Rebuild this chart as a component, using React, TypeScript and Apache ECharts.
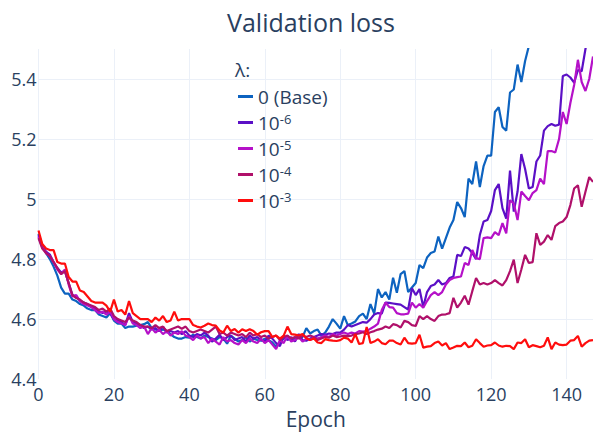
import React, { useEffect, useRef } from "react";
import * as echarts from "echarts";

const blue = [4.885,4.845,4.82,4.8,4.775,4.745,4.705,4.685,4.685,4.665,4.66,4.65,4.645,4.635,4.63,4.63,4.615,4.61,4.605,4.62,4.595,4.585,4.585,4.57,4.575,4.575,4.578,4.58,4.583,4.59,4.57,4.565,4.56,4.565,4.56,4.55,4.54,4.535,4.535,4.54,4.538,4.548,4.54,4.535,4.545,4.54,4.535,4.53,4.54,4.535,4.518,4.545,4.535,4.525,4.53,4.54,4.525,4.535,4.53,4.528,4.535,4.53,4.522,4.508,4.525,4.535,4.54,4.53,4.535,4.542,4.54,4.57,4.552,4.56,4.565,4.545,4.555,4.575,4.6,4.585,4.568,4.61,4.58,4.585,4.592,4.61,4.618,4.6,4.65,4.618,4.7,4.672,4.69,4.665,4.738,4.688,4.75,4.76,4.69,4.705,4.72,4.78,4.77,4.805,4.82,4.825,4.875,4.835,4.87,4.905,4.93,4.99,4.97,4.94,5.068,5.05,5.125,5.04,5.11,5.145,5.145,5.29,5.306,5.24,5.228,5.355,5.365,5.448,5.39,5.46,5.51,5.56];

const purple = [4.88,4.84,4.825,4.815,4.79,4.77,4.755,4.76,4.72,4.68,4.675,4.66,4.655,4.65,4.64,4.635,4.625,4.62,4.625,4.62,4.6,4.595,4.59,4.58,4.62,4.59,4.585,4.58,4.57,4.575,4.565,4.57,4.56,4.575,4.555,4.56,4.555,4.56,4.55,4.56,4.545,4.54,4.55,4.545,4.555,4.545,4.525,4.535,4.548,4.53,4.54,4.545,4.53,4.535,4.54,4.525,4.545,4.535,4.54,4.53,4.525,4.545,4.535,4.52,4.51,4.545,4.53,4.54,4.525,4.55,4.53,4.528,4.535,4.54,4.545,4.55,4.548,4.552,4.55,4.555,4.555,4.565,4.58,4.575,4.58,4.585,4.59,4.588,4.6,4.615,4.62,4.618,4.655,4.654,4.652,4.65,4.648,4.64,4.632,4.703,4.68,4.7,4.64,4.69,4.71,4.715,4.73,4.715,4.72,4.737,4.742,4.814,4.81,4.84,4.835,4.82,4.8,4.88,4.925,4.93,4.96,5.03,5.05,4.97,4.935,5.095,4.958,5.025,5.15,5.1,5.035,5.04,5.125,5.145,5.228,5.243,5.25,5.244,5.248,5.41,5.415,5.405,5.388,5.43,5.426,5.5,5.56];

const magenta = [4.875,4.84,4.82,4.81,4.79,4.765,4.75,4.765,4.715,4.675,4.68,4.66,4.65,4.645,4.64,4.63,4.62,4.625,4.615,4.625,4.6,4.59,4.585,4.58,4.61,4.585,4.58,4.57,4.575,4.55,4.57,4.555,4.565,4.55,4.56,4.545,4.555,4.55,4.56,4.545,4.54,4.53,4.545,4.535,4.54,4.52,4.535,4.525,4.515,4.54,4.525,4.53,4.52,4.515,4.53,4.52,4.535,4.525,4.52,4.535,4.52,4.53,4.515,4.5,4.53,4.52,4.545,4.525,4.53,4.54,4.525,4.535,4.53,4.54,4.535,4.54,4.545,4.54,4.55,4.545,4.55,4.555,4.55,4.555,4.552,4.56,4.558,4.56,4.568,4.575,4.585,4.63,4.655,4.64,4.638,4.62,4.616,4.616,4.618,4.655,4.638,4.65,4.638,4.66,4.68,4.69,4.68,4.69,4.715,4.73,4.737,4.74,4.742,4.787,4.78,4.83,4.803,4.8,4.87,4.872,4.87,4.89,4.88,4.92,4.886,4.996,4.985,4.93,5.025,5.01,4.996,5.02,5.03,5.068,5.05,5.16,5.16,5.155,5.2,5.29,5.25,5.32,5.38,5.464,5.39,5.36,5.4,5.475];

const crimson = [4.87,4.835,4.82,4.81,4.79,4.77,4.75,4.76,4.72,4.68,4.67,4.665,4.655,4.65,4.645,4.64,4.63,4.635,4.625,4.635,4.61,4.6,4.595,4.59,4.605,4.595,4.59,4.58,4.575,4.575,4.57,4.58,4.57,4.575,4.56,4.565,4.57,4.575,4.568,4.575,4.56,4.555,4.56,4.565,4.56,4.555,4.565,4.575,4.55,4.555,4.545,4.555,4.55,4.545,4.55,4.54,4.555,4.545,4.55,4.54,4.545,4.535,4.54,4.545,4.53,4.54,4.545,4.535,4.54,4.535,4.545,4.54,4.545,4.54,4.53,4.535,4.54,4.538,4.545,4.54,4.542,4.545,4.543,4.545,4.55,4.552,4.556,4.55,4.556,4.56,4.565,4.568,4.575,4.57,4.583,4.58,4.572,4.594,4.59,4.58,4.577,4.61,4.6,4.61,4.6,4.594,4.61,4.615,4.616,4.62,4.671,4.638,4.655,4.678,4.648,4.693,4.737,4.715,4.72,4.715,4.72,4.73,4.72,4.712,4.73,4.76,4.798,4.72,4.765,4.814,4.787,4.79,4.886,4.847,4.858,4.88,4.864,4.91,4.92,4.925,4.94,4.98,5.035,5.046,4.974,5.024,5.073,5.057];

const red = [4.895,4.85,4.835,4.83,4.83,4.79,4.785,4.785,4.74,4.725,4.725,4.695,4.69,4.675,4.66,4.655,4.655,4.655,4.645,4.625,4.665,4.625,4.63,4.615,4.66,4.62,4.61,4.6,4.6,4.6,4.59,4.605,4.595,4.61,4.59,4.595,4.625,4.595,4.6,4.6,4.6,4.58,4.575,4.572,4.578,4.585,4.58,4.578,4.562,4.555,4.578,4.56,4.567,4.555,4.566,4.56,4.566,4.56,4.548,4.556,4.56,4.56,4.54,4.545,4.535,4.545,4.575,4.55,4.548,4.545,4.55,4.536,4.53,4.535,4.522,4.52,4.533,4.53,4.528,4.527,4.53,4.538,4.535,4.522,4.55,4.517,4.52,4.574,4.52,4.525,4.533,4.52,4.516,4.528,4.528,4.52,4.515,4.538,4.52,4.518,4.52,4.548,4.505,4.508,4.51,4.52,4.525,4.512,4.52,4.5,4.505,4.511,4.51,4.522,4.506,4.511,4.533,4.52,4.508,4.512,4.513,4.522,4.512,4.508,4.511,4.51,4.5,4.522,4.52,4.533,4.506,4.513,4.51,4.506,4.511,4.539,4.5,4.522,4.515,4.513,4.515,4.528,4.53,4.544,4.508,4.52,4.528,4.53];

const seriesNames = ["0 (Base)", "10^-6", "10^-5", "10^-4", "10^-3"];
const seriesValues = [blue, purple, magenta, crimson, red];
const seriesColors = ["#0d63c0", "#5b10c6", "#b511c8", "#b0106a", "#ff0d0d"];
const xTicks = [0, 20, 40, 60, 80, 100, 120, 140];
const yTicks = [4.4, 4.6, 4.8, 5, 5.2, 5.4];

const FONT = '"Open Sans", verdana, arial, sans-serif';
const TXT = "#2a3f5f";
const GRID = "#ebf0f8";

export default function App() {
  const ref = useRef<HTMLDivElement>(null);
  useEffect(() => {
    if (!ref.current) return;
    const chart = echarts.init(ref.current, undefined, { renderer: "svg" });
    const series = seriesNames.map((name, k) => ({
      name,
      type: "line",
      data: seriesValues[k].map((v, i) => [i, v]),
      showSymbol: false,
      symbol: "none",
      lineStyle: { width: 2.2, color: seriesColors[k] },
      itemStyle: { color: seriesColors[k] },
      clip: true,
      z: 2 + k,
    }));
    chart.setOption({
      animation: false,
      backgroundColor: "#ffffff",
      textStyle: { fontFamily: FONT },
      title: {
        text: "Validation loss",
        left: 306,
        top: 4,
        textAlign: "center",
        textStyle: { fontFamily: FONT, fontSize: 25, fontWeight: "normal", color: TXT },
      },
      grid: { left: 38.5, right: 0, top: 49, bottom: 52, containLabel: false },
      xAxis: {
        type: "value",
        min: 0,
        max: 147,
        interval: 20,
        name: "Epoch",
        nameLocation: "middle",
        nameGap: 28,
        nameTextStyle: { fontFamily: FONT, fontSize: 21, color: TXT },
        axisLine: { show: false },
        axisTick: { show: false },
        axisLabel: {
          margin: 6,
          fontSize: 18,
          color: TXT,
          fontFamily: FONT,
          showMaxLabel: false,
          formatter: (v: number) => (xTicks.includes(v) ? String(v) : ""),
        },
        splitLine: { show: true, lineStyle: { color: GRID, width: 1 }, showMaxLine: false },
      },
      yAxis: {
        type: "value",
        min: 4.4,
        max: 5.5,
        interval: 0.2,
        axisLine: { show: false },
        axisTick: { show: false },
        axisLabel: {
          margin: 2,
          fontSize: 18,
          color: TXT,
          fontFamily: FONT,
          showMaxLabel: false,
          formatter: (v: number) => {
            const t = yTicks.find((y) => Math.abs(y - v) < 1e-6);
            return t === undefined ? "" : String(t);
          },
        },
        splitLine: { show: true, lineStyle: { color: GRID, width: 1 }, showMaxLine: false, showMinLine: false },
      },
      legend: {
        orient: "vertical",
        left: 233,
        top: 82,
        itemWidth: 15,
        itemHeight: 3,
        itemGap: 6,
        icon: "rect",
        data: seriesNames,
        formatter: (name: string) => {
          if (name.indexOf("^") < 0) return `{n|${name}}`;
          const [b, e] = name.split("^");
          return `{n|${b}}{s|${e}}`;
        },
        textStyle: {
          color: TXT,
          fontFamily: FONT,
          fontSize: 19,
          rich: {
            n: { fontSize: 19, color: TXT, fontFamily: FONT, lineHeight: 21 },
            s: { fontSize: 13, color: TXT, fontFamily: FONT, verticalAlign: "top", lineHeight: 21 },
          },
        },
      },
      graphic: [
        {
          type: "text",
          left: 235,
          top: 60,
          style: { text: "λ:", fontSize: 19, fontFamily: FONT, fill: TXT },
        },
      ],
      series,
    });
    return () => chart.dispose();
  }, []);
  return <div ref={ref} style={{ width: 593, height: 434, position: "absolute", left: 0, top: 0 }} />;
}
